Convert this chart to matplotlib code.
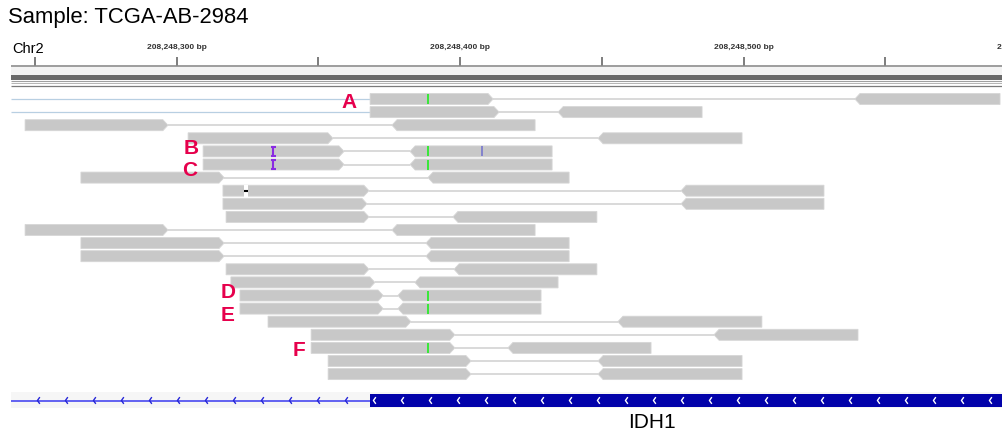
import matplotlib
matplotlib.use("Agg")
import matplotlib.pyplot as plt
import matplotlib.patches as patches
import numpy as np

plt.rcParams["font.family"] = ["Liberation Sans", "DejaVu Sans"]

# 位置は chr2:208,248,000 からのオフセット (bp)
OFFSET = 208248000
sample_name = "Sample: TCGA-AB-2984"
chrom = "Chr2"
gene_name = "IDH1"

# 目盛り
major_ticks = [300, 400, 500, 600]
minor_ticks = [250, 350, 450, 550]

# リード (各行: 左側 forward リード, 右側 reverse リード)
left_start = [368.2, 368.2, 246.5, 304.0, 309.3, 309.3, 266.2, 316.3, 316.3, 317.4, 246.5,
              266.2, 266.2, 317.4, 319.1, 322.3, 322.3, 332.2, 347.4, 347.4, 353.4, 353.4]
left_end = [411.6, 413.7, 296.9, 355.1, 359.0, 359.0, 316.7, 367.8, 367.1, 367.8, 296.9,
            316.7, 316.7, 367.8, 369.9, 372.8, 372.8, 382.6, 398.1, 398.1, 403.8, 403.8]
right_start = [539.2, 434.5, 375.9, 448.6, 382.3, 382.3, 388.6, 477.9, 477.9, 397.4, 375.9,
               387.9, 387.9, 397.8, 384.0, 378.0, 378.0, 455.6, 489.5, 416.8, 448.6, 448.6]
right_end = [590.4, 485.3, 426.4, 499.4, 432.4, 432.4, 438.4, 528.3, 528.3, 448.2, 426.4,
             438.4, 438.4, 448.2, 434.5, 428.5, 428.5, 506.4, 540.3, 467.3, 499.4, 499.4]

# メイトが画面の左外にある行
mate_left_rows = [0, 1]

# ミスマッチ (行, 位置, 色)
mismatch_rows = [0, 4, 5, 15, 16, 19, 4]
mismatch_pos = [388.1, 388.1, 388.1, 388.1, 388.1, 388.1, 407.2]
mismatch_col = ["#3be63b"] * 6 + ["#8484cc"]

# 挿入 (紫の I) と欠失
insertion_rows = [4, 5]
insertion_pos = [334.0, 334.0]
deletion_rows = [7]
deletion_start = [323.6]
deletion_end = [325.2]

# ラベル A-F
label_text = ["A", "B", "C", "D", "E", "F"]
label_rows = [0, 4, 5, 15, 16, 19]

# 遺伝子 (IDH1): イントロンとエクソン
intron_start, intron_end = 241.5, 368.2
exon_start, exon_end = 368.2, 592.0

# ---- 描画 ----
PX_PER_BP = 2.835
X0 = 250 - 35 / PX_PER_BP          # 画像の左端 (0px) の bp


def px2bp(p):
    return X0 + p / PX_PER_BP


W, H = 1002, 434
fig = plt.figure(figsize=(W / 100, H / 100), dpi=100)
ax = fig.add_axes([0, 0, 1, 1])
ax.set_xlim(px2bp(0), px2bp(W))
ax.set_ylim(H, 0)
ax.axis("off")

LEFT = px2bp(11)
RIGHT = px2bp(W)
ROW0, ROW_H, HALF = 99.0, 13.1, 5.5
TIP = 1.8
READ_FC = "#c8c8c8"
READ_EC = "#d6d6d6"


def row_y(i):
    return ROW0 + i * ROW_H


def draw_read(x0, x1, y, strand):
    if strand == "+":
        pts = [(x0, y - HALF), (x1 - TIP, y - HALF), (x1, y), (x1 - TIP, y + HALF), (x0, y + HALF)]
    else:
        pts = [(x0 + TIP, y - HALF), (x1, y - HALF), (x1, y + HALF), (x0 + TIP, y + HALF), (x0, y)]
    ax.add_patch(patches.Polygon(pts, closed=True, facecolor=READ_FC, edgecolor=READ_EC,
                                 lw=0.6, zorder=3))


# ヘッダー
ax.text(px2bp(8), 17, sample_name, fontsize=15.8, va="center", ha="left")
ax.text(px2bp(12), 49, chrom, fontsize=10.5, va="center", ha="left")
for t in major_ticks:
    ax.text(t, 47.5, f"{OFFSET + t:,} bp", fontsize=6.0, fontweight="bold", color="#333333",
            ha="center", va="center")
ax.vlines(major_ticks + minor_ticks, 57, 65.5, color="#5a5a5a", lw=1.1)
ax.hlines(65.5, LEFT, RIGHT, color="#8c8c8c", lw=1.2)
ax.add_patch(patches.Rectangle((LEFT, 66.5), RIGHT - LEFT, 8.5, facecolor="#f3f3f3", lw=0))
ax.add_patch(patches.Rectangle((LEFT, 75), RIGHT - LEFT, 4.5, facecolor="#6a6a6a", lw=0))
ax.hlines(81, LEFT, RIGHT, color="#a0a0a0", lw=0.8)
ax.hlines(83, LEFT, RIGHT, color="#b4b4b4", lw=0.7)
ax.hlines(85.8, LEFT, RIGHT, color="#7a7a7a", lw=0.9)

# リードとペアの線
for i in range(len(left_start)):
    y = row_y(i)
    if i in mate_left_rows:
        ax.hlines(y, LEFT, left_start[i], color="#b8cfe2", lw=0.9, zorder=1)
    ax.hlines(y, left_end[i], right_start[i], color="#d0d0d0", lw=1.1, zorder=1)
    draw_read(left_start[i], left_end[i], y, "+")
    draw_read(right_start[i], right_end[i], y, "-")

for r, p, c in zip(mismatch_rows, mismatch_pos, mismatch_col):
    y = row_y(r)
    w = 0.8 if c != "#8484cc" else 0.7
    ax.add_patch(patches.Rectangle((p, y - HALF + 0.5), w, 2 * HALF - 1, facecolor=c, lw=0, zorder=4))

for r, p in zip(insertion_rows, insertion_pos):
    y = row_y(r)
    ax.vlines(p, y - 4.5, y + 4.5, color="#8a2be2", lw=1.5, zorder=4)
    ax.hlines([y - 4.5, y + 4.5], p - 0.9, p + 0.9, color="#8a2be2", lw=1.5, zorder=4)

for r, a, b in zip(deletion_rows, deletion_start, deletion_end):
    y = row_y(r)
    ax.add_patch(patches.Rectangle((a, y - HALF - 0.5), b - a, 2 * HALF + 1, facecolor="white",
                                   lw=0, zorder=4))
    ax.hlines(y, a + 0.2, b - 0.2, color="black", lw=1.5, zorder=5)

label_x = [px2bp(349), px2bp(191), px2bp(190), px2bp(228), px2bp(228), px2bp(299)]
label_dy = [3, -3, 6.5, -2.5, 7, 3]
for t, r, x, dy in zip(label_text, label_rows, label_x, label_dy):
    ax.text(x, row_y(r) + dy, t, color="#e6004c", fontsize=15, fontweight="bold",
            ha="center", va="center", zorder=6)

# 遺伝子トラック
GY = 400.5
ax.add_patch(patches.Rectangle((LEFT, 392), RIGHT - LEFT, 16, facecolor="#f6f6f6", lw=0))
ax.hlines(GY, intron_start, intron_end, color="#4848f0", lw=1.2, zorder=2)
ax.add_patch(patches.Rectangle((exon_start, 394), exon_end - exon_start, 13,
                               facecolor="#0202aa", lw=0, zorder=2))
for cx in np.arange(px2bp(38), RIGHT, 28 / PX_PER_BP):
    col = "white" if cx > exon_start + 1 else "#2626d8"
    ax.plot([cx + 0.5, cx - 0.2, cx + 0.5], [GY - 2.8, GY, GY + 2.8], color=col, lw=1.0, zorder=3)
ax.text(px2bp(652), 423, gene_name, fontsize=15, ha="center", va="center")

fig.savefig("out.png", dpi=100)
